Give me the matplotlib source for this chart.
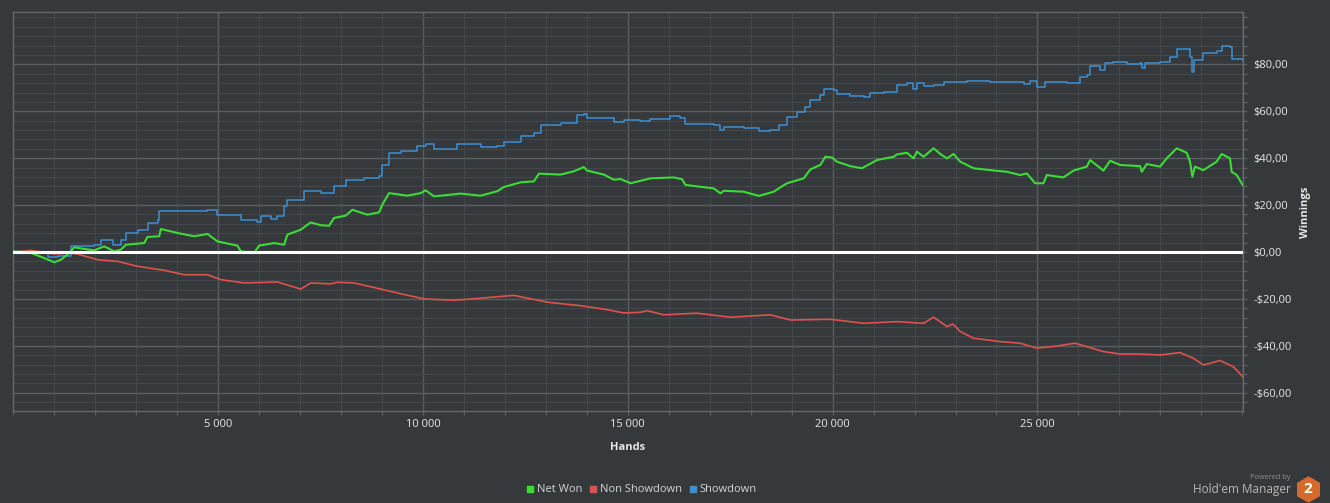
import matplotlib
matplotlib.use("Agg")
import matplotlib.pyplot as plt
from matplotlib.lines import Line2D
from matplotlib.ticker import MultipleLocator, FuncFormatter

plt.rcParams['font.family'] = ['Open Sans', 'DejaVu Sans']

# ---------------- data ----------------
sd_hands = [0, 431, 837, 1081, 1407, 1976, 2138, 2382, 2423, 2545, 2626, 2748, 3033, 3276, 3520,
            3561, 4008, 4740, 4984, 5309, 5553, 5959, 6041, 6285, 6447, 6610, 6691, 7098, 7505,
            7790, 7830, 8115, 8562, 8928, 9009, 9172, 9456, 9863, 10066, 10269, 10838, 11407,
            11814, 11976, 12383, 12708, 12871, 13359, 13765, 13928, 14009, 14416, 14660, 14903,
            15310, 15554, 16042, 16286, 16407, 17099, 17245, 17342, 17830, 18196, 18480, 18684,
            18887, 19131, 19334, 19456, 19700, 19781, 20025, 20106, 20432, 20757, 20920, 21245,
            21570, 21814, 21960, 22058, 22220, 22464, 22708, 23277, 23847, 24253, 24660, 24822,
            24985, 25147, 25188, 25554, 25717, 26042, 26204, 26286, 26529, 26651, 26855, 27180,
            27505, 27546, 27627, 27993, 28237, 28399, 28643, 28724, 28781, 28822, 29050, 29375,
            29497, 29700, 29741, 29944, 30009]
sd_vals = [0, -0.4, -2.0, -1.8, 2.4, 3.1, 5.0, 5.0, 2.8, 2.8, 5.3, 8.1, 9.5, 12.4, 13.8,
           17.3, 17.3, 17.8, 15.9, 15.9, 13.8, 13.0, 15.2, 14.0, 15.5, 19.5, 22.3, 25.9, 25.1,
           25.1, 28.0, 30.8, 31.5, 32.2, 37.2, 42.2, 42.9, 45.0, 46.2, 43.9, 46.2, 44.7,
           45.0, 46.7, 49.3, 50.7, 54.3, 55.0, 58.5, 58.9, 57.1, 57.1, 55.3, 56.1,
           55.7, 56.5, 58.0, 57.0, 54.5, 54.1, 52.0, 53.4, 52.7, 51.6, 52.0, 54.1,
           57.7, 59.8, 61.9, 64.8, 66.9, 69.3, 69.0, 67.2, 66.5, 66.2, 67.6, 68.3,
           71.2, 71.9, 69.7, 72.2, 70.7, 71.2, 72.6, 73.0, 72.6, 72.6, 71.6, 73.0,
           70.2, 70.5, 72.3, 72.6, 71.9, 74.7, 75.4, 79.3, 77.8, 80.4, 81.1, 80.1,
           80.4, 78.3, 80.7, 81.1, 83.2, 86.4, 86.4, 83.2, 76.8, 81.8, 84.7, 85.8,
           87.8, 87.2, 82.5, 82.5, 81.5]

nw_hands = [0, 431, 756, 1000, 1163, 1366, 1488, 1732, 1976, 2220, 2463, 2626, 2748, 3195, 3276,
            3561, 3602, 4008, 4415, 4740, 4984, 5228, 5472, 5553, 5878, 6000, 6366, 6610, 6691,
            7016, 7260, 7505, 7708, 7830, 8115, 8277, 8643, 8928, 9009, 9172, 9619, 9944, 10066,
            10269, 10920, 11407, 11814, 11976, 12383, 12708, 12830, 13359, 13684, 13928, 14009,
            14416, 14660, 14822, 15066, 15554, 16123, 16326, 16407, 17099, 17261, 17342, 17830,
            18196, 18562, 18684, 18887, 19294, 19456, 19700, 19822, 19985, 20106, 20432, 20716,
            21082, 21489, 21570, 21814, 21977, 22058, 22220, 22464, 22627, 22790, 22952, 23115,
            23440, 23847, 24253, 24578, 24741, 24944, 25147, 25229, 25635, 25879, 26204, 26286,
            26611, 26773, 27017, 27505, 27546, 27668, 27993, 28155, 28399, 28643, 28724, 28781,
            28846, 29050, 29375, 29497, 29700, 29741, 29863, 30009]
nw_vals = [0.3, -0.4, -2.6, -4.4, -3.3, -0.4, 2.0, 1.3, 0.7, 2.4, 0.3, 1.0, 3.1, 3.8, 6.4,
           6.7, 9.8, 8.1, 6.7, 7.7, 4.5, 3.6, 2.7, 0.3, -0.4, 2.7, 3.8, 3.1, 7.4,
           9.5, 12.6, 11.4, 11.2, 14.5, 15.5, 18.0, 15.9, 16.9, 20.2, 25.1, 24.0, 25.1, 26.3,
           23.7, 24.9, 24.0, 25.9, 27.7, 29.7, 30.1, 33.4, 33.0, 34.4, 36.2, 34.7,
           33.0, 30.8, 31.1, 29.3, 31.4, 31.8, 31.0, 28.6, 27.1, 25.0, 26.1, 25.7,
           23.9, 25.7, 27.1, 29.3, 31.4, 35.2, 37.1, 40.6, 40.3, 38.5, 36.6, 35.7,
           39.2, 40.6, 41.6, 42.3, 39.9, 42.8, 40.6, 44.2, 41.8, 39.9, 41.8, 38.5,
           35.7, 34.9, 34.2, 32.8, 33.5, 29.3, 29.3, 32.8, 31.8, 34.7, 36.4, 39.2,
           34.7, 38.9, 37.1, 36.6, 34.2, 37.5, 36.4, 39.9, 44.2, 42.3, 38.5, 32.1,
           36.4, 34.9, 38.5, 41.8, 39.9, 34.2, 32.8, 28.6]

ns_hands = [0, 431, 1000, 1407, 1569, 2057, 2545, 3033, 3683, 4171, 4740, 5065, 5634, 6447, 7016,
            7260, 7748, 7911, 8318, 8968, 9456, 10025, 10757, 11407, 12220, 13033, 13846, 14497,
            14903, 15310, 15472, 15879, 16692, 17505, 18480, 18968, 19944, 20757, 21570, 22220,
            22464, 22790, 22936, 23115, 23440, 24090, 24578, 24985, 25473, 25920, 26611, 27017,
            27505, 27993, 28481, 28806, 29050, 29456, 29781, 30009]
ns_vals = [0, 0.7, -0.9, -0.4, -0.9, -3.3, -4.0, -6.1, -7.8, -9.7, -9.7, -11.8, -13.2, -12.8, -15.8,
           -13.2, -13.6, -12.9, -13.2, -15.8, -17.8, -20.0, -20.6, -19.7, -18.5, -21.4, -22.9, -24.6,
           -26.0, -25.7, -25.0, -26.8, -26.1, -27.8, -26.8, -29.0, -28.7, -30.4, -29.7, -30.4,
           -27.8, -31.8, -30.7, -33.9, -36.8, -38.2, -38.9, -41.0, -40.1, -38.9, -42.5, -43.5,
           -43.5, -43.9, -42.9, -45.3, -48.2, -46.3, -48.9, -53.1]

series_names = ["Net Won", "Non Showdown", "Showdown"]
x_tick_values = [5000, 10000, 15000, 20000, 25000]
y_tick_values = [-60, -40, -20, 0, 20, 40, 60, 80]

# ---------------- style ----------------
BG = '#36393c'
GREEN = '#3bdc36'
RED = '#dc524e'
BLUE = '#3d8fd2'
TXT = '#e6e6e6'
GRID_MAJ = '#5a5d61'
GRID_MIN = '#44474b'

W, H = 1330, 503
fig = plt.figure(figsize=(W / 100, H / 100), dpi=100, facecolor=BG)
L, R, T, B = 13.3, 1242.7, 12.3, 411.0
ax = fig.add_axes([L / W, 1 - B / H, (R - L) / W, (B - T) / H])
ax.set_facecolor(BG)

ax.plot(sd_hands, sd_vals, color=BLUE, lw=1.1, zorder=3, drawstyle='steps-post')
ax.plot(ns_hands, ns_vals, color=RED, lw=1.2, zorder=3)
ax.plot(nw_hands, nw_vals, color=GREEN, lw=1.5, zorder=4)
ax.axhline(0, color='white', lw=2.2, zorder=5)

ax.set_xlim(0, 30010)
ax.set_ylim(-67.8, 102.2)

ax.set_xticks(x_tick_values)
ax.xaxis.set_minor_locator(MultipleLocator(1000))
ax.xaxis.set_major_formatter(FuncFormatter(lambda v, p: f"{int(v):,}".replace(",", " ")))
ax.set_yticks(y_tick_values)
ax.yaxis.set_minor_locator(MultipleLocator(4))

def yfmt(v, p):
    s = f"{abs(v):.2f}".replace(".", ",")
    return ("-$" if v < 0 else "$") + s
ax.yaxis.set_major_formatter(FuncFormatter(yfmt))
ax.yaxis.tick_right()

ax.grid(which='major', color=GRID_MAJ, lw=1.0)
ax.grid(which='minor', color=GRID_MIN, lw=0.8)
ax.set_axisbelow(True)

for s in ax.spines.values():
    s.set_color('#65686c')
    s.set_linewidth(1.0)

ax.tick_params(axis='x', which='both', direction='out', length=3, color=GRID_MAJ,
               labelcolor=TXT, labelsize=8, pad=2.5, width=1)
ax.tick_params(axis='y', which='both', direction='out', length=3, color=GRID_MAJ,
               labelcolor=TXT, labelsize=8, pad=4.5, width=1, right=True, left=False)

fig.text(628 / W, 1 - 447 / H, "Hands", color=TXT, fontsize=8, fontweight='bold',
         ha='center', va='center')
fig.text(1305.7 / W, 1 - 212 / H, "Winnings", color=TXT, fontsize=8, fontweight='bold',
         ha='center', va='center', rotation=90)

handles = [Line2D([], [], marker='s', linestyle='', markersize=5, color=c)
           for c in (GREEN, RED, BLUE)]
fig.legend(handles, series_names, loc='center', bbox_to_anchor=(642 / W, 1 - 490 / H),
           ncol=3, frameon=False, handlelength=0.6, handletextpad=0.3, columnspacing=0.7,
           fontsize=8, labelcolor='#d4d4d4', borderpad=0)

fig.text(1291 / W, 1 - 477.5 / H, "Powered by", color='#8c8c8c', fontsize=5.3,
         ha='right', va='center')
fig.text(1291 / W, 1 - 489.5 / H, "Hold'em Manager", color='#b8b8b8', fontsize=8.5,
         ha='right', va='center')
fig.add_artist(Line2D([1308 / W], [1 - 489 / H], marker='h', markersize=18, color='#d66a2c',
                      linestyle='', transform=fig.transFigure))
fig.text(1308 / W, 1 - 489 / H, "2", color='white', fontsize=11, fontweight='bold',
         ha='center', va='center')

fig.savefig("out.png", dpi=100, facecolor=BG)
